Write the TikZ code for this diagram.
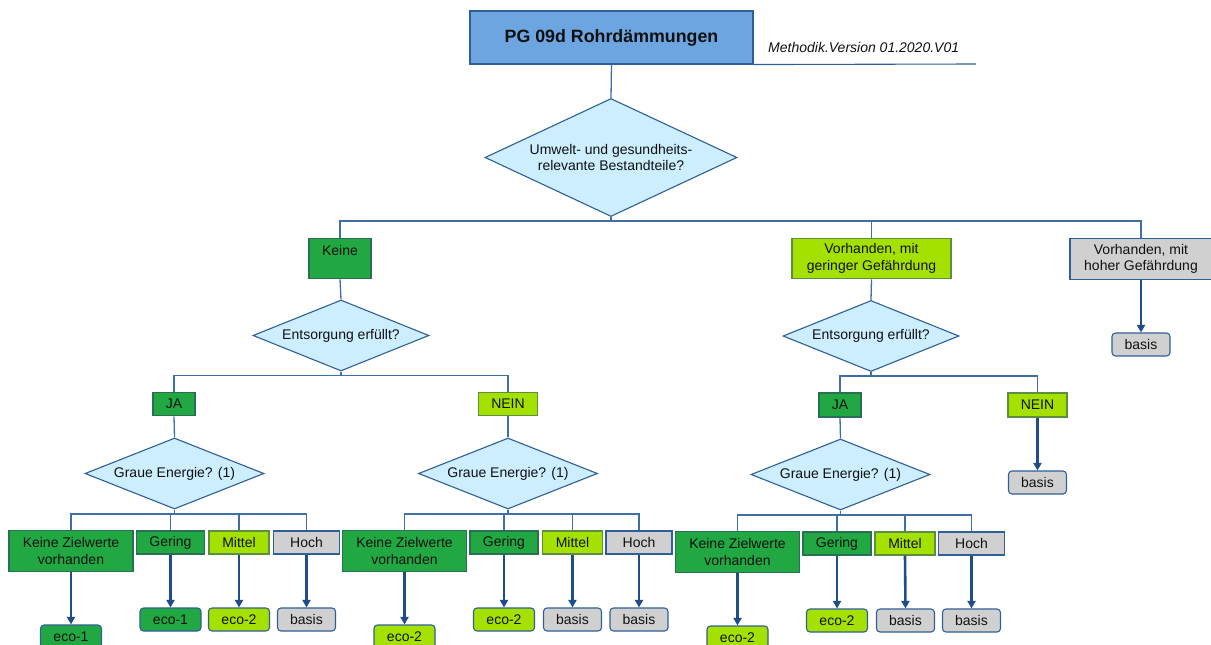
\documentclass[tikz,border=0pt]{standalone}
\usepackage{fontspec}
\setmainfont{Liberation Sans}
\usetikzlibrary{shapes.geometric,arrows.meta}
\definecolor{titleblue}{HTML}{6CA5E0}
\definecolor{diafill}{HTML}{CCEEFF}
\definecolor{dgreen}{HTML}{21A843}
\definecolor{limec}{HTML}{A4E000}
\definecolor{lgray}{HTML}{D0D0D0}
\definecolor{linec}{HTML}{3F6FA5}
\definecolor{arrc}{HTML}{1F4D8C}
\definecolor{bordb}{HTML}{2F5F98}
\definecolor{bordg}{HTML}{2A6E55}
\definecolor{bordl}{HTML}{5B8E3E}
\definecolor{txt}{HTML}{111111}
\tikzset{
  lab/.style={font=\fontsize{14}{16.5}\selectfont, text=txt},
  box/.style={lab, draw, line width=1.1pt, inner sep=0pt, align=center},
  gbox/.style={box, fill=dgreen, draw=bordg},
  lbox/.style={box, fill=limec, draw=bordl},
  ybox/.style={box, fill=lgray, draw=bordb},
  obox/.style={box, rounded corners=3.5pt, draw=bordb, minimum height=23pt},
  oeco1/.style={obox, fill=dgreen, minimum width=61pt},
  oeco2/.style={obox, fill=limec, minimum width=61pt},
  obas/.style={obox, fill=lgray, minimum width=58pt},
  dia/.style={lab, diamond, draw=bordb, fill=diafill, line width=1.1pt, inner sep=0pt, align=center},
  conn/.style={draw=linec, line width=1.3pt},
  arr/.style={draw=arrc, line width=2.6pt, -{Triangle[length=7.5pt,width=8pt]}},
}
\begin{document}
\begin{tikzpicture}[x=1pt,y=-1pt]
\fill[white] (0,0) rectangle (1211,645);
\useasboundingbox (0,0) rectangle (1211,645);

% title
\node[draw=bordb, fill=titleblue, line width=1.1pt, minimum width=283pt, minimum height=53pt, inner sep=0pt,
      font=\fontsize{17.8}{20}\selectfont\bfseries, text=txt] (title) at (611.5,37.5) {PG 09d Rohrdämmungen};
\node[anchor=base west, font=\fontsize{14}{16}\selectfont\itshape, text=txt, inner sep=0pt] (meth) at (768,52.5) {Methodik.Version 01.2020.V01};
\coordinate (mend) at (976,64);
\draw[draw=bordb, line width=1.1pt] (title.south east) -- (mend);

% level 1
\node[dia, aspect=2.136, minimum width=252pt, minimum height=118pt] (d1) at (611,157.5) {Umwelt- und gesundheits-\\relevante Bestandteile?};
\node[gbox, minimum width=62pt, minimum height=40.5pt, text height=10pt, text depth=17pt] (keine) at (340,258.5) {Keine};
\node[lbox, minimum width=159pt, minimum height=40.5pt] (vg) at (871.5,258.5) {Vorhanden, mit\\geringer Gefährdung};
\node[ybox, minimum width=142pt, minimum height=40.5pt] (vh) at (1141,259) {Vorhanden, mit\\hoher Gefährdung};
\node[obas] (bvh) at (1141,344.5) {basis};

% level 2
\node[dia, aspect=2.48, minimum width=176pt, minimum height=71pt] (e1) at (341,335.5) {Entsorgung erfüllt?};
\node[dia, aspect=2.48, minimum width=176pt, minimum height=71pt] (e2) at (871,336) {Entsorgung erfüllt?};
\node[gbox, minimum width=42pt, minimum height=23.5pt] (ja1) at (174,404) {JA};
\node[lbox, minimum width=59pt, minimum height=23.5pt] (nein1) at (508,404) {NEIN};
\node[gbox, minimum width=42pt, minimum height=24pt] (ja2) at (840,405) {JA};
\node[lbox, minimum width=59pt, minimum height=24pt] (nein2) at (1037.5,405) {NEIN};
\node[obas] (bn2) at (1037.5,482.5) {basis};

% level 3 diamonds
\node[dia, aspect=2.52, minimum width=179pt, minimum height=71pt] (g1) at (174.5,473.5) {Graue Energie? (1)};
\node[dia, aspect=2.52, minimum width=179pt, minimum height=71pt] (g2) at (508,473.5) {Graue Energie? (1)};
\node[dia, aspect=2.52, minimum width=179pt, minimum height=71pt] (g3) at (840.5,474.5) {Graue Energie? (1)};

% group 1 (cx=174.5)
\node[gbox, minimum width=124pt, minimum height=40.5pt] (kz1) at (71,551) {Keine Zielwerte\\vorhanden};
\node[gbox, minimum width=68pt, minimum height=23pt] (ge1) at (170.5,542.5) {Gering};
\node[lbox, minimum width=60pt, minimum height=23pt] (mi1) at (239,542.5) {Mittel};
\node[ybox, minimum width=66pt, minimum height=23pt] (ho1) at (306.5,542.5) {Hoch};
\node[oeco1] (okz1) at (71,636.5) {eco-1};
\node[oeco1] (oge1) at (170.5,619.5) {eco-1};
\node[oeco2] (omi1) at (239,619.5) {eco-2};
\node[obas] (oho1) at (306.5,619.5) {basis};

% group 2 (cx=508)
\node[gbox, minimum width=124pt, minimum height=40.5pt] (kz2) at (404.5,551) {Keine Zielwerte\\vorhanden};
\node[gbox, minimum width=68pt, minimum height=23pt] (ge2) at (504,542.5) {Gering};
\node[lbox, minimum width=60pt, minimum height=23pt] (mi2) at (572.5,542.5) {Mittel};
\node[ybox, minimum width=66pt, minimum height=23pt] (ho2) at (639,542.5) {Hoch};
\node[oeco2] (okz2) at (404.5,636.5) {eco-2};
\node[oeco2] (oge2) at (504,619.5) {eco-2};
\node[obas] (omi2) at (572.5,619.5) {basis};
\node[obas] (oho2) at (639,619.5) {basis};

% group 3 (cx=840.5)
\node[gbox, minimum width=124pt, minimum height=40.5pt] (kz3) at (737.5,552) {Keine Zielwerte\\vorhanden};
\node[gbox, minimum width=68pt, minimum height=23pt] (ge3) at (837,543.5) {Gering};
\node[lbox, minimum width=60pt, minimum height=23pt] (mi3) at (905,543.5) {Mittel};
\node[ybox, minimum width=66pt, minimum height=23pt] (ho3) at (971.5,543.5) {Hoch};
\node[oeco2] (okz3) at (737.5,637.5) {eco-2};
\node[oeco2] (oge3) at (837,620.5) {eco-2};
\node[obas] (omi3) at (905.5,620.5) {basis};
\node[obas] (oho3) at (971.5,620.5) {basis};

% thin tree connectors
\draw[conn] (title.south) -- (d1.north);
\draw[conn] (d1.south) -- ++(0,4) coordinate (b1);
\draw[conn] (b1) -| (keine.north);
\draw[conn] (b1) -| (vg.north);
\draw[conn] (b1) -| (vh.north);

\draw[conn] (keine.south) -- (e1.north);
\draw[conn] (vg.south) -- (e2.north);
\draw[conn] (e1.south) -- ++(0,4) coordinate (b2);
\draw[conn] (b2) -| (ja1.north);
\draw[conn] (b2) -| (nein1.north);
\draw[conn] (e2.south) -- ++(0,4) coordinate (b3);
\draw[conn] (b3) -| (ja2.north);
\draw[conn] (b3) -| (nein2.north);

\draw[conn] (ja1.south) -- (g1.north);
\draw[conn] (nein1.south) -- (g2.north);
\draw[conn] (ja2.south) -- (g3.north);

\foreach \i in {1,2,3}{
  \draw[conn] (g\i.south) -- ++(0,4.5) coordinate (c\i);
  \draw[conn] (c\i) -| (kz\i.north);
  \draw[conn] (c\i) -| (ge\i.north);
  \draw[conn] (c\i) -| (mi\i.north);
  \draw[conn] (c\i) -| (ho\i.north);
  \draw[arr] (kz\i.south) -- (okz\i.north);
  \draw[arr] (ge\i.south) -- (oge\i.north);
  \draw[arr] (mi\i.south) -- (omi\i.north);
  \draw[arr] (ho\i.south) -- (oho\i.north);
}

% thick arrows
\draw[arr] (vh.south) -- (bvh.north);
\draw[arr] (nein2.south) -- (bn2.north);
\end{tikzpicture}
\end{document}
